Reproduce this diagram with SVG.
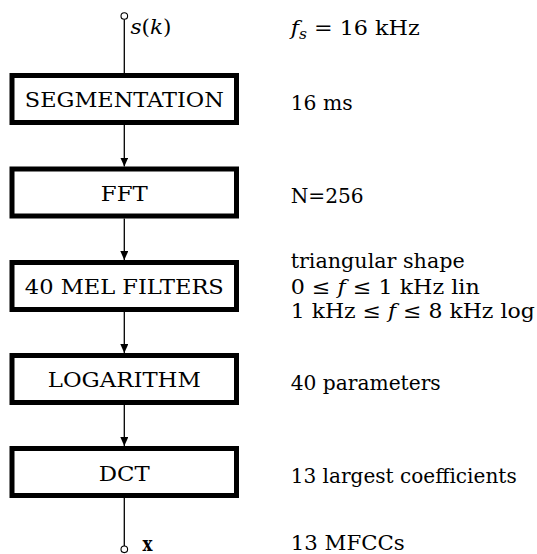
<svg xmlns="http://www.w3.org/2000/svg" width="537" height="554" viewBox="0 0 537 554">
<style>
  .box { fill: #fff; stroke: #000; stroke-width: 5; }
  text { font-family: "DejaVu Serif", "Liberation Serif", serif; fill: #000; }
  .lbl { font-size: 21px; text-anchor: middle; }
  .note { font-size: 20px; }
  .it { font-style: italic; }
  .wire { stroke: #000; stroke-width: 1.3; fill: none; }
  .term { fill: #fff; stroke: #000; stroke-width: 1.1; }
</style>
<defs>
  <marker id="arr" markerUnits="userSpaceOnUse" markerWidth="9" markerHeight="8" viewBox="0 0 9 8" refX="9" refY="4" orient="auto">
    <path d="M0,0 L9,4 L0,8 Z" fill="#000"/>
  </marker>
</defs>
<g id="connectors">
  <line class="wire" x1="124.3" y1="19.3" x2="124.3" y2="73"/>
  <line class="wire" x1="124.3" y1="125" x2="124.3" y2="166.5" marker-end="url(#arr)"/>
  <line class="wire" x1="124.3" y1="218.5" x2="124.3" y2="260" marker-end="url(#arr)"/>
  <line class="wire" x1="124.3" y1="312" x2="124.3" y2="353" marker-end="url(#arr)"/>
  <line class="wire" x1="124.3" y1="405" x2="124.3" y2="446" marker-end="url(#arr)"/>
  <line class="wire" x1="124.3" y1="498" x2="124.3" y2="546.2"/>
</g>
<g id="input">
  <circle class="term" cx="124.3" cy="16" r="3.3"/>
  <text class="note" x="130.5" y="33.5" textLength="41" lengthAdjust="spacingAndGlyphs"><tspan class="it">s</tspan>(<tspan class="it">k</tspan>)</text>
</g>
<g id="segmentation">
  <rect class="box" x="12" y="75.5" width="224.5" height="47"/>
  <text class="lbl" x="124.3" y="106.5" textLength="199" lengthAdjust="spacingAndGlyphs">SEGMENTATION</text>
</g>
<g id="fft">
  <rect class="box" x="12" y="169" width="224.5" height="47"/>
  <text class="lbl" x="124.3" y="201" textLength="47" lengthAdjust="spacingAndGlyphs">FFT</text>
</g>
<g id="mel">
  <rect class="box" x="12" y="262.5" width="224.5" height="47"/>
  <text class="lbl" x="124.3" y="294" textLength="199" lengthAdjust="spacingAndGlyphs">40 MEL FILTERS</text>
</g>
<g id="log">
  <rect class="box" x="12" y="355.5" width="224.5" height="47"/>
  <text class="lbl" x="124.3" y="387.3" textLength="153" lengthAdjust="spacingAndGlyphs">LOGARITHM</text>
</g>
<g id="dct">
  <rect class="box" x="12" y="448.5" width="224.5" height="47"/>
  <text class="lbl" x="124.3" y="481" textLength="51" lengthAdjust="spacingAndGlyphs">DCT</text>
</g>
<g id="output">
  <circle class="term" cx="124.3" cy="549.3" r="3.3"/>
  <text class="note" x="142.5" y="550.5" font-weight="bold" textLength="10" lengthAdjust="spacingAndGlyphs">x</text>
</g>
<g id="notes">
  <text class="note" x="290.7" y="35" textLength="129" lengthAdjust="spacingAndGlyphs"><tspan class="it">f</tspan><tspan class="it" font-size="14" dy="4">s</tspan><tspan dy="-4"> = 16 kHz</tspan></text>
  <text class="note" x="290.7" y="110" textLength="62" lengthAdjust="spacingAndGlyphs">16 ms</text>
  <text class="note" x="290.7" y="203" textLength="73" lengthAdjust="spacingAndGlyphs">N=256</text>
  <text class="note" x="290.7" y="268.3" textLength="174" lengthAdjust="spacingAndGlyphs">triangular shape</text>
  <text class="note" x="290.7" y="293.5" textLength="189" lengthAdjust="spacingAndGlyphs">0 ≤ <tspan class="it">f</tspan> ≤ 1 kHz lin</text>
  <text class="note" x="290.7" y="318.3" textLength="244" lengthAdjust="spacingAndGlyphs">1 kHz ≤ <tspan class="it">f</tspan> ≤ 8 kHz log</text>
  <text class="note" x="290.7" y="390" textLength="150" lengthAdjust="spacingAndGlyphs">40 parameters</text>
  <text class="note" x="290.7" y="483.3" textLength="226" lengthAdjust="spacingAndGlyphs">13 largest coefficients</text>
  <text class="note" x="290.7" y="550" textLength="114" lengthAdjust="spacingAndGlyphs">13 MFCCs</text>
</g>
</svg>
